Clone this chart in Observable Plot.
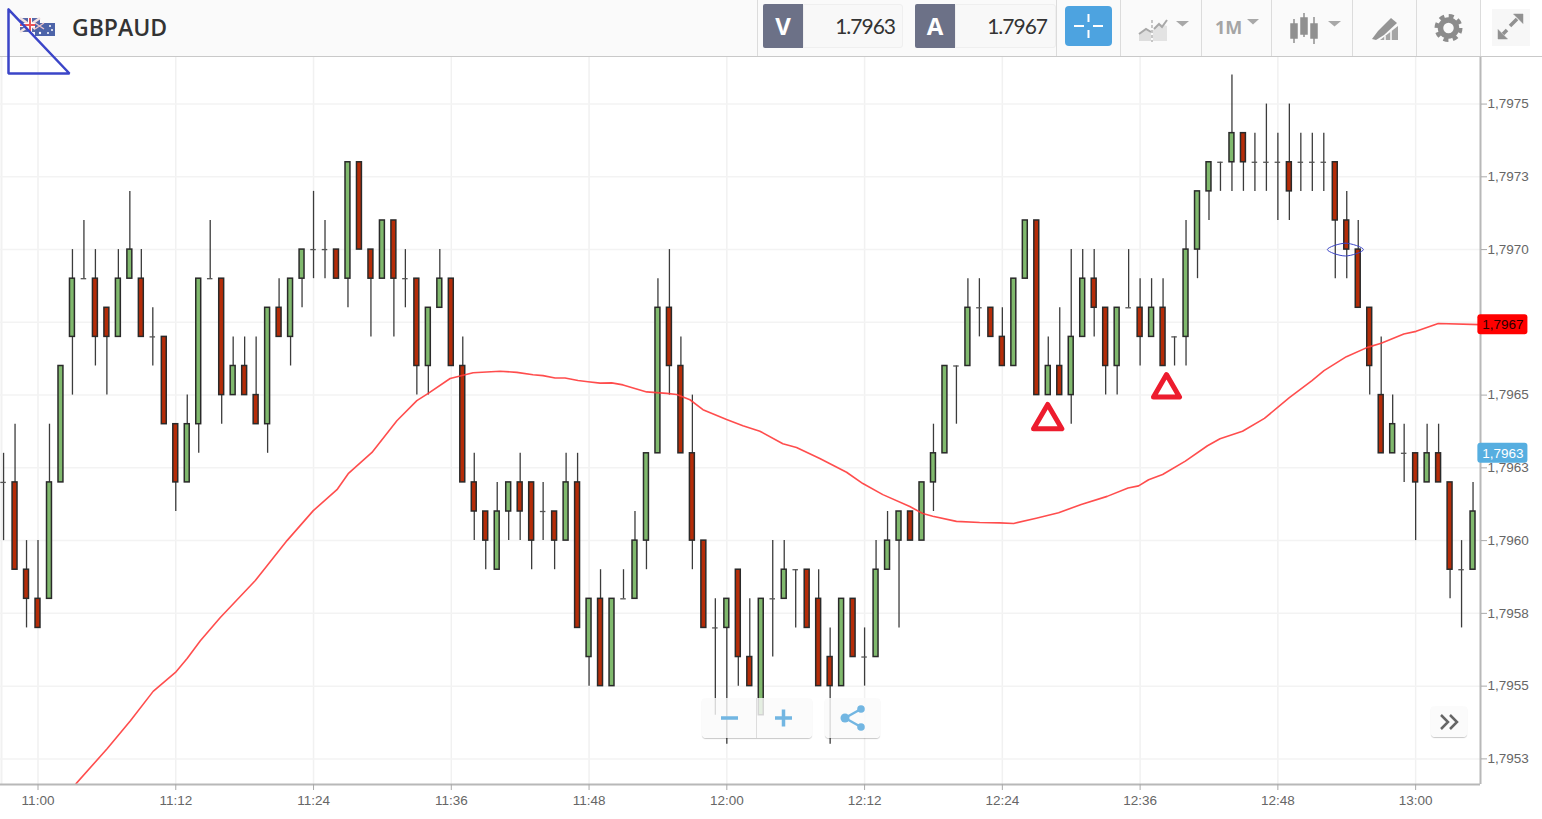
<!DOCTYPE html>
<html>
<head>
<meta charset="utf-8">
<script src="https://cdn.jsdelivr.net/npm/d3@7"></script>
<script src="https://cdn.jsdelivr.net/npm/@observablehq/plot@0.6"></script>
<style>
html,body{margin:0;padding:0;background:#fff;width:1542px;height:819px;overflow:hidden}
#stage{position:relative;width:1542px;height:819px}
#header{position:absolute;left:0;top:0;width:1542px;height:56px;background:#fafafa;border-bottom:1px solid #c9c9c9}
#chart{position:absolute;left:0;top:0}
#chart svg{display:block}
.abs{position:absolute;box-sizing:border-box}
.title{left:72px;top:10px;font:600 23px/34px "Open Sans",sans-serif;color:#333}
.side{background:#6c7187;color:#fff;font:700 24px/44px "Open Sans",sans-serif;text-align:center;top:4px;width:40px;height:44px;border-radius:2px 0 0 2px}
.val{background:#f8f8f8;border:1px solid #efefef;border-radius:0 3px 3px 0;top:4px;height:44px;color:#333;font:400 21px/42px "Lato",sans-serif;text-align:right;padding-right:7px;letter-spacing:-1px}
.sep{top:0;width:1px;height:56px;background:#dcdcdc}
.tool{font:700 18px/24px "Open Sans",sans-serif;color:#a5a5a5}
.float{background:rgba(250,250,250,.82);border-radius:4px;box-shadow:0 1px 1px rgba(0,0,0,.22)}
</style>
</head>
<body>
<div id="stage">
  <div id="header">
    <svg class="abs" style="left:0;top:0" width="1542" height="56" viewBox="0 0 1542 56">
      <g opacity=".85">
        <rect x="20" y="18" width="20" height="14" fill="#3c4f9a"/>
        <path d="M20 18L40 32M40 18L20 32" stroke="#f0dede" stroke-width="2.5"/>
        <path d="M30 18V32M20 25H40" stroke="#fff" stroke-width="4"/>
        <path d="M30 18V32M20 25H40" stroke="#e5383b" stroke-width="2"/>
        <rect x="35" y="23" width="20" height="13" fill="#2f4a9c"/>
        <path d="M35 23L44 29M44 23L35 29" stroke="#e9b9c0" stroke-width="1.5"/>
        <circle cx="40" cy="33" r="1.2" fill="#fff"/><circle cx="50" cy="26" r="1" fill="#fff"/><circle cx="52" cy="30" r="1" fill="#fff"/><circle cx="48" cy="33" r="1" fill="#fff"/>
      </g>
      <rect x="1481" y="0" width="61" height="56" fill="#fff"/>
      <rect x="1492" y="9" width="38" height="37" fill="#f7f7f7"/>
      <g fill="#a8a8a8">
        <path d="M1139 34L1146 29L1151 31V41H1139Z" fill="#dedede"/>
        <path d="M1153 30L1160 24L1167 26V41H1153Z" fill="#e3e3e3"/>
        <path d="M1139 34L1146 29L1151 32" fill="none" stroke="#a8a8a8" stroke-width="2"/>
        <path d="M1154 29L1159 24L1162 27L1167 20" fill="none" stroke="#a8a8a8" stroke-width="2"/>
        <path d="M1152 20V42" stroke="#b5b5b5" stroke-width="1.5" stroke-dasharray="3 2"/>
        <path d="M1176 21H1189L1182.500 26.500Z"/>
        <path d="M1247 19H1259L1253 24.500Z"/>
        <path d="M1328 21H1341L1334.500 26.500Z"/>
        <g fill="#909090" stroke="#909090" stroke-width="1.500">
          <path d="M1294 19V43M1304 13V37M1314 17V44" fill="none"/>
          <rect x="1291" y="24" width="6" height="14"/><rect x="1301" y="18" width="6" height="16"/><rect x="1311" y="24" width="6" height="14"/>
        </g>
        <g fill="#959595">
          <path d="M1372 39L1378 31L1391 18L1397 23L1384 35L1376 40Z"/>
          <path d="M1380 40L1398 26V40Z" fill="#a5a5a5"/>
          <path d="M1385 40V36M1391 40V31" stroke="#fafafa" stroke-width="1.5"/>
        </g>
        <g fill="none" stroke="#8c8c8c">
          <circle cx="1448.500" cy="28" r="8" stroke-width="5.500"/>
          <circle cx="1448.500" cy="28" r="12" stroke-width="4" stroke-dasharray="5 4.400"/>
        </g>
        <g fill="#919191" stroke="#919191">
          <path d="M1523 14V23.500L1513.500 14Z" stroke-width=".5"/>
          <path d="M1517 19L1510 26" stroke-width="3.5" fill="none"/>
          <path d="M1498 39V29.500L1507.500 39Z" stroke-width=".5"/>
          <path d="M1504 33.500L1511 27" stroke-width="0" fill="none"/>
          <path d="M1503 34L1507 30" stroke-width="3.5" fill="none"/>
        </g>
      </g>
    </svg>
    <div class="abs title">GBPAUD</div>
    <div class="abs sep" style="left:757px"></div>
    <div class="abs side" style="left:763px">V</div>
    <div class="abs val" style="left:803px;width:100px">1.7963</div>
    <div class="abs side" style="left:915px">A</div>
    <div class="abs val" style="left:955px;width:101px;padding-right:8px">1.7967</div>
    <div class="abs sep" style="left:1056px"></div>
    <div class="abs" style="left:1065px;top:6px;width:47px;height:40px;background:#4da3e0;border-radius:4px">
      <svg width="47" height="40"><path d="M23.500 8V16M23.500 24V32M9 20H19M28 20H38" stroke="#fff" stroke-width="2"/></svg>
    </div>
    <div class="abs sep" style="left:1120px"></div>
    <div class="abs sep" style="left:1201px"></div>
    <div class="abs tool" style="left:1215px;top:15px">1M</div>
    <div class="abs sep" style="left:1271px"></div>
    <div class="abs sep" style="left:1352px"></div>
    <div class="abs sep" style="left:1416px"></div>
    <div class="abs sep" style="left:1480px"></div>
  </div>
  <div id="chart"></div>
  <div class="abs float" style="left:702px;top:698px;width:110px;height:40px">
    <div class="abs" style="left:54px;top:0;width:1px;height:40px;background:#ddd"></div>
    <svg class="abs" style="left:0;top:0" width="110" height="40"><path d="M19 20H36" stroke="#72b6e2" stroke-width="3.500"/><path d="M73 20H90M81.500 11.500V28.500" stroke="#72b6e2" stroke-width="3.500"/></svg>
  </div>
  <div class="abs float" style="left:825px;top:698px;width:55px;height:40px">
    <svg class="abs" style="left:0;top:0" width="55" height="40"><path d="M20 20L36 11M20 20L36 29" stroke="#72b6e2" stroke-width="2.500"/><circle cx="20" cy="20" r="4.500" fill="#72b6e2"/><circle cx="36" cy="11" r="3.800" fill="#72b6e2"/><circle cx="36" cy="29" r="3.800" fill="#72b6e2"/></svg>
  </div>
  <div class="abs float" style="left:1431px;top:706px;width:36px;height:31px">
    <svg class="abs" style="left:0;top:0" width="36" height="31"><path d="M10 9L17 16L10 23M19 9L26 16L19 23" fill="none" stroke="#666" stroke-width="2.500"/></svg>
  </div>
</div>
<script>
// Prices are written as pips above 1.7900 (62 = 1.7962). Bars are one minute, minute 0 = 11:00.
const firstMinute = -3;
const opens = [62,62,59,58,58,62,67,69,69,68,67,69,69,67,67,64,62,64,69,69,65,66,65,64,68,67,69,70,70,70,69,73,70,69,71,69,69,66,68,69,66,62,61,59,61,62,62,61,61,60,62,56,58,55,58,58,60,63,68,66,63,60,57,57,59,56,54,58,58,59,59,58,56,55,58,56,56,59,60,61,60,62,63,66,66,68,68,67,66,69,71,65,66,65,67,69,68,66,68,68,67,68,67,67,70,72,73,73,74,73,73,73,73,73,73,73,73,71,70,68,65,63,63,63,62,63,62,59,59];
const closes = [62,59,58,57,62,66,69,69,67,67,69,70,67,67,64,62,64,69,69,65,66,65,64,68,67,69,70,70,70,69,73,70,69,71,69,69,66,68,69,66,62,61,60,61,62,61,60,61,60,62,57,58,55,58,58,60,63,68,66,63,60,57,57,58,56,55,58,58,59,59,57,55,55,58,56,56,59,60,61,60,62,63,66,66,68,68,67,66,69,71,65,66,65,67,69,68,66,68,68,67,68,66,67,70,72,73,73,74,73,73,73,73,72,73,73,73,71,70,68,66,63,64,63,62,63,62,59,59,61];
const highs = [63,64,60,60,64,66,70,71,70,68,70,72,70,68,67,64,65,69,71,69,67,67,67,68,69,69,70,72,71,70,73,73,70,71,71,70,69,68,70,69,67,63,61,62,62,63,62,62,61,63,63,58,59,58,59,61,63,69,70,67,65,60,58,58,59,58,58,60,60,59,59,59,57,58,58,57,60,61,61,61,62,64,66,66,69,69,68,68,69,71,71,67,68,70,70,70,68,68,70,69,69,69,67,71,72,73,73,76,74,74,75,74,75,74,74,74,73,72,71,68,67,65,64,63,64,64,62,60,62];
const lows = [60,59,57,57,58,62,65,69,66,65,67,69,67,66,64,61,62,63,69,64,65,65,64,63,67,66,68,69,69,69,68,70,67,69,67,68,65,65,68,66,62,60,59,59,60,60,59,60,59,60,57,55,55,55,58,58,59,63,65,63,59,57,54,53,55,55,54,56,58,57,57,55,53,55,56,55,56,59,57,60,60,61,63,64,66,67,67,66,66,69,65,65,65,64,67,67,65,65,68,66,67,66,66,66,69,71,72,72,72,72,72,71,71,72,72,72,69,69,68,65,63,63,62,60,62,62,58,57,59];

// Moving average
const maMinutes = [3.32,6.02,8.05,10.03,11.97,12.99,14.14,15.88,18.93,19.95,21.69,23.98,26.04,27.02,29.09,31.26,33,33.96,35.9,37.9,40.25,41.71,43.12,43.99,45.04,45.91,47.04,47.91,48.96,49.97,50.96,53.02,54.76,55.63,56.79,57.92,59.98,61.4,62.88,64.88,66.07,68.1,70.43,71.85,73.59,75.94,77.07,77.94,80,82.03,83.77,84.99,86.95,88.9,90.87,93.13,94.95,95.87,96.74,97.96,99.94,101.87,102.96,104.92,106.83,109,110.97,112.02,113.97,115.8,117,118.97,120.04,121.97,125.63];
const maPrices = [1.795165,1.795285,1.795381,1.795482,1.795547,1.795595,1.795656,1.795736,1.795863,1.795914,1.796,1.796103,1.796175,1.79623,1.796303,1.796412,1.796481,1.796505,1.796557,1.796577,1.796582,1.796578,1.79657,1.796567,1.796559,1.796559,1.79655,1.796546,1.796541,1.796542,1.796535,1.796511,1.796506,1.796502,1.796484,1.79645,1.796416,1.796395,1.796376,1.796333,1.79632,1.796282,1.796235,1.796196,1.796158,1.796117,1.796093,1.796084,1.796066,1.796062,1.796061,1.796059,1.796077,1.796096,1.796124,1.796152,1.796181,1.796188,1.796209,1.796227,1.796273,1.796326,1.79635,1.796376,1.79642,1.796491,1.79655,1.796584,1.796632,1.796664,1.796678,1.79671,1.796719,1.796746,1.796742];

const xTicks = [0,12,24,36,48,60,72,84,96,108,120];
const xLabels = ["11:00","11:12","11:24","11:36","11:48","12:00","12:12","12:24","12:36","12:48","13:00"];
const yTicks = [1.7975,1.79725,1.797,1.7965,1.79625,1.796,1.79575,1.7955,1.79525,1.79675];
const yLabels = ["1,7975","1,7973","1,7970","1,7965","1,7963","1,7960","1,7958","1,7955","1,7953",""];

const markerA = {m:87.95,p:1.796412};
const markerB = {m:98.3,p:1.796519};
const drawnTriangle = {m:[-2.57,-2.57,2.74,-2.57],p:[1.797825,1.797605,1.797605,1.797825]};
const ellipseM = [112.31,113.88,115.45,113.88];
const ellipseP = [1.797,1.797022,1.797,1.796978];
const priceTags = [{label:"1,7967",p:1.796742,fill:"#ff0000",text:"#2a0000"},{label:"1,7963",p:1.7963,fill:"#56aee0",text:"#ffffff"}];

const price = v => 1.79 + v / 10000;
const candles = opens.map((o,i) => ({m:firstMinute+i,o:price(o),c:price(closes[i]),h:price(highs[i]),l:price(lows[i])}));
const bodies = candles.filter(d => d.o !== d.c);
const dojis = candles.filter(d => d.o === d.c);
const up = "#80b96d", down = "#b52c08", edge = "#2a2a2a";
const xStart = -3.267, xEnd = 125.65;
const halfBody = 0.215, halfDoji = 0.24, tagStart = 125.42, tagEnd = 129.78, tagHalf = 0.0000344;
const yLabelOf = new Map(yTicks.map((t,i)=>[t,yLabels[i]]));
const xLabelOf = new Map(xTicks.map((t,i)=>[t,xLabels[i]]));
const ma = maMinutes.map((m,i)=>({m,p:maPrices[i]}));
const tri = drawnTriangle.m.map((m,i)=>({m,p:drawnTriangle.p[i]}));
const ell = ellipseM.map((m,i)=>({m,p:ellipseP[i]}));
const font = "Liberation Sans, Arial, sans-serif";

const chart = Plot.plot({
  width:1542, height:819,
  marginTop:57, marginBottom:35, marginLeft:0, marginRight:62,
  style:{background:"transparent",fontFamily:font},
  x:{type:"linear",domain:[xStart,xEnd],axis:null},
  y:{type:"linear",domain:[1.795162,1.79766],axis:null},
  marks:[
    Plot.ruleX([-3.18],{stroke:"#f1f1f1",strokeWidth:2}),
    Plot.ruleX(xTicks,{stroke:"#f1f1f1",strokeWidth:1.5}),
    Plot.ruleY(yTicks,{stroke:"#f3f3f3",strokeWidth:1.5}),
    Plot.ruleX(candles,{x:"m",y1:"l",y2:"h",stroke:"#3c3c3c",strokeWidth:1.3}),
    Plot.rect(bodies,{x1:d=>d.m-halfBody,x2:d=>d.m+halfBody,y1:"o",y2:"c",fill:d=>d.c>d.o?up:down,stroke:edge,strokeWidth:1.5}),
    Plot.ruleY(dojis,{y:"o",x1:d=>d.m-halfDoji,x2:d=>d.m+halfDoji,stroke:"#555",strokeWidth:1.3}),
    Plot.line(ma,{x:"m",y:"p",stroke:"#ff3a3a",strokeOpacity:0.9,strokeWidth:1.6,clip:true}),
    Plot.ruleY([1.795162],{stroke:"#b8b8b8",strokeWidth:2}),
    Plot.ruleX([xEnd],{stroke:"#b8b8b8",strokeWidth:2}),
    Plot.axisX(xTicks,{anchor:"bottom",label:null,tickSize:6,tickPadding:5,fontSize:13.5,fill:"#666",stroke:"#aaa",tickFormat:d=>xLabelOf.get(d)}),
    Plot.axisY(yTicks.slice(0,9),{anchor:"right",label:null,tickSize:6,tickPadding:1,fontSize:13.5,fill:"#666",stroke:"#aaa",tickFormat:d=>yLabelOf.get(d)}),
    Plot.rect(priceTags,{x1:tagStart,x2:tagEnd,y1:d=>d.p-tagHalf,y2:d=>d.p+tagHalf,fill:"fill",rx:3}),
    Plot.text(priceTags,{x:(tagStart+tagEnd)/2,y:"p",text:"label",fill:"text",fontSize:13.5}),
    Plot.dot([markerA],{x:"m",y:"p",symbol:"triangle",r:10.5,fill:"none",stroke:"#ed1c2e",strokeWidth:5,strokeLinejoin:"round"}),
    Plot.dot([markerB],{x:"m",y:"p",symbol:"triangle",r:9.65,fill:"none",stroke:"#ed1c2e",strokeWidth:5,strokeLinejoin:"round"}),
    Plot.line(tri,{x:"m",y:"p",stroke:"#3b45c8",strokeWidth:2.5,curve:"linear",strokeLinejoin:"miter"}),
    Plot.line(ell,{x:"m",y:"p",stroke:"#3b45c8",strokeWidth:1,curve:"catmull-rom-closed"})
  ]
});
document.getElementById("chart").appendChild(chart);
</script>
</body>
</html>
